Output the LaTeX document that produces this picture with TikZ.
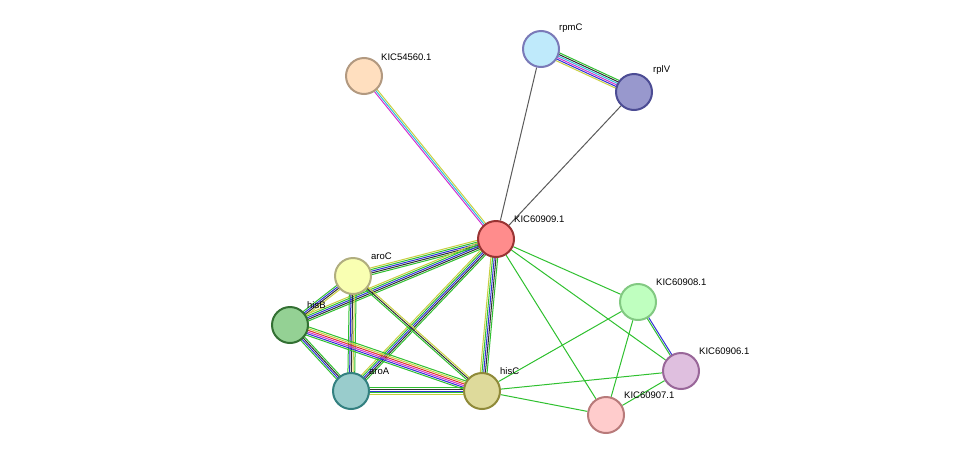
\documentclass[tikz,border=0pt]{standalone}
\usepackage{fontspec}
\setmainfont{Liberation Sans}
\usetikzlibrary{calc,backgrounds}
\definecolor{cNb}{HTML}{2FC02F}
\definecolor{cCo}{HTML}{3030D8}
\definecolor{cEx}{HTML}{D030D0}
\definecolor{cDb}{HTML}{30C0D8}
\definecolor{cTm}{HTML}{C8D040}
\definecolor{cCx}{HTML}{303030}
\definecolor{cFu}{HTML}{E03030}
\newcommand{\medge}[3]{%
  \gdef\nn{0}%
  \foreach \c [count=\i] in {#3} {\xdef\nn{\i}}%
  \foreach \c [count=\i] in {#3} {%
    \pgfmathsetmacro{\off}{(\i-(\nn+1)/2)*1.7}%
    \draw[\c,line width=1pt] ($(#1)!\off pt!90:(#2)$) -- ($(#2)!\off pt!-90:(#1)$);%
  }}
\tikzset{
  prot/.style={circle,minimum size=36pt,inner sep=0pt,line width=2pt},
  lab/.style={font=\fontsize{9.5}{11}\selectfont,anchor=south west,inner sep=1pt},
  sedge/.style={line width=1pt}
}
\begin{document}
\begin{tikzpicture}[x=1pt,y=-1pt]
\useasboundingbox (0,0) rectangle (976,461);
\node[prot,fill=orange!25,draw=brown!50!gray!80] (k54) at (364,76) {};
\node[prot,fill=cyan!25,draw=blue!30!gray!80] (rpmC) at (541,49) {};
\node[prot,fill=blue!35!gray!60,draw=blue!40!black!70] (rplV) at (634,92) {};
\node[prot,fill=red!45,draw=red!50!black!80] (k09) at (496,239) {};
\node[prot,fill=lime!30!yellow!30,draw=olive!40!gray!70] (aroC) at (353,276) {};
\node[prot,fill=green!40!gray!60,draw=green!30!black!80] (hisB) at (290,325) {};
\node[prot,fill=teal!40,draw=teal!60!gray] (aroA) at (351,391) {};
\node[prot,fill=yellow!50!gray!60,draw=olive!60!gray] (hisC) at (482,391) {};
\node[prot,fill=green!25,draw=green!40!gray!70] (k08) at (638,302) {};
\node[prot,fill=violet!25,draw=violet!50!gray!80] (k06) at (681,371) {};
\node[prot,fill=red!20,draw=red!30!gray!80] (k07) at (606,415) {};
\begin{scope}[on background layer]
\medge{k54}{k09}{cEx,cDb,cTm}
\medge{rpmC}{rplV}{cTm,cCo,cEx,cDb,cCx,cNb}
\draw[sedge,cCx!80] (rpmC) -- (k09);
\draw[sedge,cCx!80] (rplV) -- (k09);
\medge{k09}{aroC}{cTm,cNb,cCo,cCx,cNb}
\medge{k09}{hisB}{cTm,cNb,cCo,cCx,cNb}
\medge{k09}{aroA}{cTm,cNb,cCo,cCx,cNb}
\medge{k09}{hisC}{cTm,cNb,cCo,cCx,cNb}
\draw[sedge,cNb] (k09) -- (k08);
\draw[sedge,cNb] (k09) -- (k06);
\draw[sedge,cNb] (k09) -- (k07);
\draw[sedge,cNb] (hisC) -- (k08);
\draw[sedge,cNb] (hisC) -- (k06);
\draw[sedge,cNb] (hisC) -- (k07);
\draw[sedge,cNb] (k07) -- (k08);
\draw[sedge,cNb] (k07) -- (k06);
\medge{k08}{k06}{cNb,cCo}
\medge{aroC}{hisB}{cNb,cCo,cCx,cTm}
\medge{aroC}{aroA}{cNb,cCo,cCx,cTm,cNb}
\medge{aroC}{hisC}{cNb,cCx,cTm}
\medge{hisB}{aroA}{cNb,cCo,cCx,cNb}
\medge{hisB}{hisC}{cNb,cCo,cEx,cFu,cTm,cNb}
\medge{aroA}{hisC}{cTm,cNb,cCo,cCx,cNb}
\end{scope}
\node[lab] (l54) at (380,62) {KIC54560.1};
\node[lab] (lrpmC) at (558,34) {rpmC};
\node[lab] (lrplV) at (652,76) {rplV};
\node[lab] (l09) at (513,224) {KIC60909.1};
\node[lab] (laroC) at (370,261) {aroC};
\node[lab] (lhisB) at (306,310) {hisB};
\node[lab] (laroA) at (368,376) {aroA};
\node[lab] (lhisC) at (499,376) {hisC};
\node[lab] (l08) at (655,287) {KIC60908.1};
\node[lab] (l06) at (698,356) {KIC60906.1};
\node[lab] (l07) at (623,400) {KIC60907.1};
\end{tikzpicture}
\end{document}
